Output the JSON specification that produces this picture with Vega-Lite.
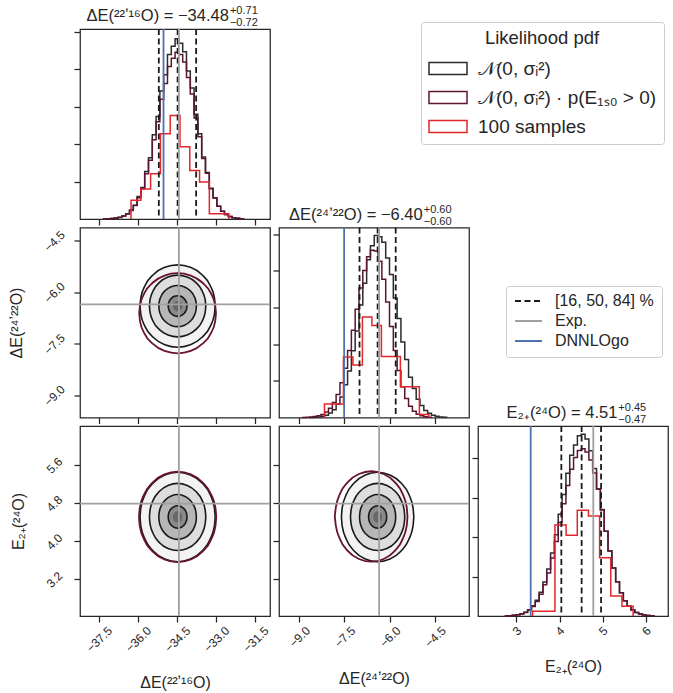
{
"$schema": "https://vega.github.io/schema/vega-lite/v6.json",
"padding": {"left": 7, "top": 4, "right": 0, "bottom": 0},
"columns": 3,
"spacing": {"row": 8.5, "column": 9},
"bounds": "flush",
"datasets": {
"h1": [
{"s":"N","x":-37.343,"u":0},{"s":"N","x":-37.197,"u":0.006},{"s":"N","x":-37.051,"u":0.012},{"s":"N","x":-36.906,"u":0.025},{"s":"N","x":-36.760,"u":0.045},{"s":"N","x":-36.615,"u":0.08},{"s":"N","x":-36.469,"u":0.14},{"s":"N","x":-36.323,"u":0.24},{"s":"N","x":-36.178,"u":0.37},{"s":"N","x":-36.032,"u":0.60},{"s":"N","x":-35.887,"u":0.84},{"s":"N","x":-35.741,"u":1.27},{"s":"N","x":-35.596,"u":1.64},{"s":"N","x":-35.450,"u":2.25},{"s":"N","x":-35.304,"u":2.74},{"s":"N","x":-35.159,"u":3.42},{"s":"N","x":-35.013,"u":3.86},{"s":"N","x":-34.868,"u":4.40},{"s":"N","x":-34.722,"u":4.62},{"s":"N","x":-34.577,"u":4.82},{"s":"N","x":-34.431,"u":4.70},{"s":"N","x":-34.285,"u":4.47},{"s":"N","x":-34.140,"u":3.96},{"s":"N","x":-33.994,"u":3.50},{"s":"N","x":-33.849,"u":2.80},{"s":"N","x":-33.703,"u":2.28},{"s":"N","x":-33.557,"u":1.66},{"s":"N","x":-33.412,"u":1.24},{"s":"N","x":-33.266,"u":0.82},{"s":"N","x":-33.121,"u":0.57},{"s":"N","x":-32.975,"u":0.34},{"s":"N","x":-32.830,"u":0.21},{"s":"N","x":-32.684,"u":0.12},{"s":"N","x":-32.538,"u":0.07},{"s":"N","x":-32.393,"u":0.035},{"s":"N","x":-32.247,"u":0.018},{"s":"N","x":-32.102,"u":0.009},{"s":"N","x":-31.956,"u":0},
{"s":"Np","x":-37.343,"u":0},{"s":"Np","x":-37.197,"u":0.006},{"s":"Np","x":-37.051,"u":0.012},{"s":"Np","x":-36.906,"u":0.024},{"s":"Np","x":-36.760,"u":0.043},{"s":"Np","x":-36.615,"u":0.077},{"s":"Np","x":-36.469,"u":0.135},{"s":"Np","x":-36.323,"u":0.23},{"s":"Np","x":-36.178,"u":0.36},{"s":"Np","x":-36.032,"u":0.57},{"s":"Np","x":-35.887,"u":0.81},{"s":"Np","x":-35.741,"u":1.21},{"s":"Np","x":-35.596,"u":1.57},{"s":"Np","x":-35.450,"u":2.12},{"s":"Np","x":-35.304,"u":2.60},{"s":"Np","x":-35.159,"u":3.20},{"s":"Np","x":-35.013,"u":3.62},{"s":"Np","x":-34.868,"u":4.08},{"s":"Np","x":-34.722,"u":4.30},{"s":"Np","x":-34.577,"u":4.46},{"s":"Np","x":-34.431,"u":4.40},{"s":"Np","x":-34.285,"u":4.20},{"s":"Np","x":-34.140,"u":3.78},{"s":"Np","x":-33.994,"u":3.34},{"s":"Np","x":-33.849,"u":2.70},{"s":"Np","x":-33.703,"u":2.20},{"s":"Np","x":-33.557,"u":1.62},{"s":"Np","x":-33.412,"u":1.22},{"s":"Np","x":-33.266,"u":0.81},{"s":"Np","x":-33.121,"u":0.56},{"s":"Np","x":-32.975,"u":0.34},{"s":"Np","x":-32.830,"u":0.21},{"s":"Np","x":-32.684,"u":0.12},{"s":"Np","x":-32.538,"u":0.07},{"s":"Np","x":-32.393,"u":0.035},{"s":"Np","x":-32.247,"u":0.018},{"s":"Np","x":-32.102,"u":0.009},{"s":"Np","x":-31.956,"u":0},
{"s":"S","x":-36.264,"u":0},{"s":"S","x":-36.264,"u":0.50},{"s":"S","x":-35.889,"u":0.80},{"s":"S","x":-35.514,"u":1.21},{"s":"S","x":-35.139,"u":2.28},{"s":"S","x":-34.764,"u":2.77},{"s":"S","x":-34.389,"u":1.93},{"s":"S","x":-34.014,"u":1.30},{"s":"S","x":-33.639,"u":0.99},{"s":"S","x":-33.264,"u":0.14},{"s":"S","x":-32.889,"u":0.14},{"s":"S","x":-32.514,"u":0}
],
"h2": [
{"s":"N","x":-8.661,"u":0},{"s":"N","x":-8.534,"u":0.007},{"s":"N","x":-8.408,"u":0.015},{"s":"N","x":-8.281,"u":0.032},{"s":"N","x":-8.155,"u":0.063},{"s":"N","x":-8.029,"u":0.12},{"s":"N","x":-7.902,"u":0.21},{"s":"N","x":-7.776,"u":0.36},{"s":"N","x":-7.649,"u":0.56},{"s":"N","x":-7.523,"u":0.89},{"s":"N","x":-7.396,"u":1.27},{"s":"N","x":-7.270,"u":1.82},{"s":"N","x":-7.144,"u":2.36},{"s":"N","x":-7.017,"u":3.07},{"s":"N","x":-6.891,"u":3.66},{"s":"N","x":-6.764,"u":4.30},{"s":"N","x":-6.638,"u":4.68},{"s":"N","x":-6.512,"u":4.96},{"s":"N","x":-6.385,"u":4.93},{"s":"N","x":-6.259,"u":4.78},{"s":"N","x":-6.132,"u":4.35},{"s":"N","x":-6.006,"u":3.90},{"s":"N","x":-5.879,"u":3.26},{"s":"N","x":-5.753,"u":2.70},{"s":"N","x":-5.627,"u":2.06},{"s":"N","x":-5.500,"u":1.58},{"s":"N","x":-5.374,"u":1.10},{"s":"N","x":-5.247,"u":0.79},{"s":"N","x":-5.121,"u":0.50},{"s":"N","x":-4.995,"u":0.33},{"s":"N","x":-4.868,"u":0.19},{"s":"N","x":-4.742,"u":0.115},{"s":"N","x":-4.615,"u":0.063},{"s":"N","x":-4.489,"u":0.033},{"s":"N","x":-4.363,"u":0.016},{"s":"N","x":-4.236,"u":0.008},{"s":"N","x":-4.110,"u":0},
{"s":"Np","x":-8.913,"u":0},{"s":"Np","x":-8.787,"u":0.006},{"s":"Np","x":-8.661,"u":0.012},{"s":"Np","x":-8.534,"u":0.024},{"s":"Np","x":-8.408,"u":0.046},{"s":"Np","x":-8.281,"u":0.085},{"s":"Np","x":-8.155,"u":0.15},{"s":"Np","x":-8.029,"u":0.25},{"s":"Np","x":-7.902,"u":0.41},{"s":"Np","x":-7.776,"u":0.63},{"s":"Np","x":-7.649,"u":0.95},{"s":"Np","x":-7.523,"u":1.34},{"s":"Np","x":-7.396,"u":1.83},{"s":"Np","x":-7.270,"u":2.38},{"s":"Np","x":-7.144,"u":2.95},{"s":"Np","x":-7.017,"u":3.53},{"s":"Np","x":-6.891,"u":4.01},{"s":"Np","x":-6.764,"u":4.38},{"s":"Np","x":-6.638,"u":4.56},{"s":"Np","x":-6.512,"u":4.54},{"s":"Np","x":-6.385,"u":4.26},{"s":"Np","x":-6.259,"u":3.77},{"s":"Np","x":-6.132,"u":3.15},{"s":"Np","x":-6.006,"u":2.48},{"s":"Np","x":-5.879,"u":1.83},{"s":"Np","x":-5.753,"u":1.28},{"s":"Np","x":-5.627,"u":0.84},{"s":"Np","x":-5.500,"u":0.52},{"s":"Np","x":-5.374,"u":0.31},{"s":"Np","x":-5.247,"u":0.17},{"s":"Np","x":-5.121,"u":0.09},{"s":"Np","x":-4.995,"u":0.045},{"s":"Np","x":-4.868,"u":0.02},{"s":"Np","x":-4.742,"u":0.01},{"s":"Np","x":-4.615,"u":0},
{"s":"S","x":-8.162,"u":0},{"s":"S","x":-8.162,"u":0.37},{"s":"S","x":-7.848,"u":0.37},{"s":"S","x":-7.533,"u":1.65},{"s":"S","x":-7.218,"u":1.43},{"s":"S","x":-6.904,"u":2.74},{"s":"S","x":-6.589,"u":2.51},{"s":"S","x":-6.275,"u":1.66},{"s":"S","x":-5.960,"u":1.66},{"s":"S","x":-5.645,"u":0.84},{"s":"S","x":-5.331,"u":0.84},{"s":"S","x":-5.016,"u":0.08},{"s":"S","x":-4.702,"u":0}
],
"h3": [
{"s":"N","x":2.727,"u":0},{"s":"N","x":2.815,"u":0.009},{"s":"N","x":2.904,"u":0.017},{"s":"N","x":2.993,"u":0.032},{"s":"N","x":3.081,"u":0.057},{"s":"N","x":3.170,"u":0.097},{"s":"N","x":3.259,"u":0.16},{"s":"N","x":3.348,"u":0.26},{"s":"N","x":3.436,"u":0.40},{"s":"N","x":3.525,"u":0.60},{"s":"N","x":3.614,"u":0.86},{"s":"N","x":3.702,"u":1.19},{"s":"N","x":3.791,"u":1.60},{"s":"N","x":3.880,"u":2.06},{"s":"N","x":3.968,"u":2.58},{"s":"N","x":4.057,"u":3.08},{"s":"N","x":4.146,"u":3.62},{"s":"N","x":4.234,"u":4.08},{"s":"N","x":4.323,"u":4.34},{"s":"N","x":4.412,"u":4.57},{"s":"N","x":4.500,"u":4.61},{"s":"N","x":4.589,"u":4.49},{"s":"N","x":4.678,"u":4.19},{"s":"N","x":4.766,"u":3.74},{"s":"N","x":4.855,"u":3.22},{"s":"N","x":4.944,"u":2.70},{"s":"N","x":5.032,"u":2.15},{"s":"N","x":5.121,"u":1.65},{"s":"N","x":5.210,"u":1.22},{"s":"N","x":5.298,"u":0.87},{"s":"N","x":5.387,"u":0.59},{"s":"N","x":5.476,"u":0.39},{"s":"N","x":5.564,"u":0.25},{"s":"N","x":5.653,"u":0.15},{"s":"N","x":5.742,"u":0.088},{"s":"N","x":5.830,"u":0.048},{"s":"N","x":5.919,"u":0.025},{"s":"N","x":6.008,"u":0.012},{"s":"N","x":6.097,"u":0.006},{"s":"N","x":6.185,"u":0},
{"s":"Np","x":2.727,"u":0},{"s":"Np","x":2.815,"u":0.008},{"s":"Np","x":2.904,"u":0.016},{"s":"Np","x":2.993,"u":0.03},{"s":"Np","x":3.081,"u":0.053},{"s":"Np","x":3.170,"u":0.09},{"s":"Np","x":3.259,"u":0.15},{"s":"Np","x":3.348,"u":0.24},{"s":"Np","x":3.436,"u":0.37},{"s":"Np","x":3.525,"u":0.55},{"s":"Np","x":3.614,"u":0.79},{"s":"Np","x":3.702,"u":1.09},{"s":"Np","x":3.791,"u":1.47},{"s":"Np","x":3.880,"u":1.89},{"s":"Np","x":3.968,"u":2.37},{"s":"Np","x":4.057,"u":2.85},{"s":"Np","x":4.146,"u":3.31},{"s":"Np","x":4.234,"u":3.72},{"s":"Np","x":4.323,"u":4.02},{"s":"Np","x":4.412,"u":4.20},{"s":"Np","x":4.500,"u":4.24},{"s":"Np","x":4.589,"u":4.16},{"s":"Np","x":4.678,"u":3.96},{"s":"Np","x":4.766,"u":3.63},{"s":"Np","x":4.855,"u":3.22},{"s":"Np","x":4.944,"u":2.69},{"s":"Np","x":5.032,"u":2.15},{"s":"Np","x":5.121,"u":1.65},{"s":"Np","x":5.210,"u":1.22},{"s":"Np","x":5.298,"u":0.87},{"s":"Np","x":5.387,"u":0.59},{"s":"Np","x":5.476,"u":0.39},{"s":"Np","x":5.564,"u":0.25},{"s":"Np","x":5.653,"u":0.15},{"s":"Np","x":5.742,"u":0.088},{"s":"Np","x":5.830,"u":0.048},{"s":"Np","x":5.919,"u":0.025},{"s":"Np","x":6.008,"u":0.012},{"s":"Np","x":6.097,"u":0.006},{"s":"Np","x":6.185,"u":0},
{"s":"S","x":3.375,"u":0},{"s":"S","x":3.375,"u":0.12},{"s":"S","x":3.634,"u":0.12},{"s":"S","x":3.892,"u":2.31},{"s":"S","x":4.151,"u":2.05},{"s":"S","x":4.409,"u":2.68},{"s":"S","x":4.668,"u":2.54},{"s":"S","x":4.926,"u":1.48},{"s":"S","x":5.185,"u":0.51},{"s":"S","x":5.443,"u":0.25},{"s":"S","x":5.702,"u":0}
],
"r": [
{"p":1,"k":"q","x":-35.20},{"p":1,"k":"q","x":-34.48},{"p":1,"k":"q","x":-33.77},{"p":1,"k":"e","x":-34.43},{"p":1,"k":"d","x":-35.02},
{"p":2,"k":"q","x":-7.00},{"p":2,"k":"q","x":-6.40},{"p":2,"k":"q","x":-5.80},{"p":2,"k":"e","x":-6.35},{"p":2,"k":"d","x":-7.51},
{"p":3,"k":"q","x":4.04},{"p":3,"k":"q","x":4.51},{"p":3,"k":"q","x":4.96},{"p":3,"k":"e","x":4.78},{"p":3,"k":"d","x":3.33}
],
"tt": [
{"p":1,"x":-32.514,"u":5.08,"m":"ΔE(²²ʼ¹⁶O) = −34.48","a":"+0.71","b":"−0.72"},
{"p":2,"x":-4.904,"u":5.18,"m":"ΔE(²⁴ʼ²²O) = −6.40","a":"+0.60","b":"−0.60"},
{"p":3,"x":5.337,"u":4.82,"m":"E₂₊(²⁴O) = 4.51","a":"+0.45","b":"−0.47"}
],
"g": [
{"p":"A","x":-34.43},{"p":"A","y":-6.35},
{"p":"B","x":-34.43},{"p":"B","y":4.79},
{"p":"C","x":-6.35},{"p":"C","y":4.79}
],
"eA": [
{"l":"2","x":-33.04,"t":-6.40,"b":-6.40},{"l":"2","x":-33.072,"t":-6.151,"b":-6.649},{"l":"2","x":-33.233,"t":-5.80,"b":-7.00},{"l":"2","x":-33.554,"t":-5.481,"b":-7.319},{"l":"2","x":-33.988,"t":-5.272,"b":-7.528},{"l":"2","x":-34.48,"t":-5.20,"b":-7.60},{"l":"2","x":-34.972,"t":-5.272,"b":-7.528},{"l":"2","x":-35.406,"t":-5.481,"b":-7.319},{"l":"2","x":-35.727,"t":-5.80,"b":-7.00},{"l":"2","x":-35.888,"t":-6.151,"b":-6.649},{"l":"2","x":-35.92,"t":-6.40,"b":-6.40},
{"l":"1.5","x":-33.40,"t":-6.40,"b":-6.40},{"l":"1.5","x":-33.424,"t":-6.213,"b":-6.587},{"l":"1.5","x":-33.545,"t":-5.95,"b":-6.85},{"l":"1.5","x":-33.786,"t":-5.711,"b":-7.089},{"l":"1.5","x":-34.111,"t":-5.554,"b":-7.246},{"l":"1.5","x":-34.48,"t":-5.50,"b":-7.30},{"l":"1.5","x":-34.849,"t":-5.554,"b":-7.246},{"l":"1.5","x":-35.174,"t":-5.711,"b":-7.089},{"l":"1.5","x":-35.415,"t":-5.95,"b":-6.85},{"l":"1.5","x":-35.536,"t":-6.213,"b":-6.587},{"l":"1.5","x":-35.56,"t":-6.40,"b":-6.40},
{"l":"1","x":-33.76,"t":-6.40,"b":-6.40},{"l":"1","x":-33.776,"t":-6.275,"b":-6.525},{"l":"1","x":-33.856,"t":-6.10,"b":-6.70},{"l":"1","x":-34.017,"t":-5.94,"b":-6.86},{"l":"1","x":-34.234,"t":-5.836,"b":-6.964},{"l":"1","x":-34.48,"t":-5.80,"b":-7.00},{"l":"1","x":-34.726,"t":-5.836,"b":-6.964},{"l":"1","x":-34.943,"t":-5.94,"b":-6.86},{"l":"1","x":-35.104,"t":-6.10,"b":-6.70},{"l":"1","x":-35.184,"t":-6.275,"b":-6.525},{"l":"1","x":-35.20,"t":-6.40,"b":-6.40},
{"l":"0.5","x":-34.12,"t":-6.40,"b":-6.40},{"l":"0.5","x":-34.128,"t":-6.338,"b":-6.462},{"l":"0.5","x":-34.168,"t":-6.25,"b":-6.55},{"l":"0.5","x":-34.249,"t":-6.17,"b":-6.63},{"l":"0.5","x":-34.357,"t":-6.118,"b":-6.682},{"l":"0.5","x":-34.48,"t":-6.10,"b":-6.70},{"l":"0.5","x":-34.603,"t":-6.118,"b":-6.682},{"l":"0.5","x":-34.711,"t":-6.17,"b":-6.63},{"l":"0.5","x":-34.792,"t":-6.25,"b":-6.55},{"l":"0.5","x":-34.832,"t":-6.338,"b":-6.462},{"l":"0.5","x":-34.84,"t":-6.40,"b":-6.40},
{"l":"0.25","x":-34.30,"t":-6.40,"b":-6.40},{"l":"0.25","x":-34.304,"t":-6.369,"b":-6.431},{"l":"0.25","x":-34.324,"t":-6.325,"b":-6.475},{"l":"0.25","x":-34.364,"t":-6.285,"b":-6.515},{"l":"0.25","x":-34.418,"t":-6.259,"b":-6.541},{"l":"0.25","x":-34.48,"t":-6.25,"b":-6.55},{"l":"0.25","x":-34.542,"t":-6.259,"b":-6.541},{"l":"0.25","x":-34.596,"t":-6.285,"b":-6.515},{"l":"0.25","x":-34.636,"t":-6.325,"b":-6.475},{"l":"0.25","x":-34.656,"t":-6.369,"b":-6.431},{"l":"0.25","x":-34.66,"t":-6.40,"b":-6.40},
{"l":"p","x":-33.01,"t":-6.61,"b":-6.61},{"l":"p","x":-33.042,"t":-6.367,"b":-6.853},{"l":"p","x":-33.207,"t":-6.025,"b":-7.195},{"l":"p","x":-33.535,"t":-5.714,"b":-7.506},{"l":"p","x":-33.977,"t":-5.511,"b":-7.709},{"l":"p","x":-34.48,"t":-5.44,"b":-7.78},{"l":"p","x":-34.983,"t":-5.511,"b":-7.709},{"l":"p","x":-35.425,"t":-5.714,"b":-7.506},{"l":"p","x":-35.753,"t":-6.025,"b":-7.195},{"l":"p","x":-35.918,"t":-6.367,"b":-6.853},{"l":"p","x":-35.95,"t":-6.61,"b":-6.61}
],
"eB": [
{"l":"2","x":-33.04,"t":4.51,"b":4.51},{"l":"2","x":-33.072,"t":4.705,"b":4.315},{"l":"2","x":-33.233,"t":4.98,"b":4.04},{"l":"2","x":-33.554,"t":5.23,"b":3.79},{"l":"2","x":-33.988,"t":5.393,"b":3.627},{"l":"2","x":-34.48,"t":5.45,"b":3.57},{"l":"2","x":-34.972,"t":5.393,"b":3.627},{"l":"2","x":-35.406,"t":5.23,"b":3.79},{"l":"2","x":-35.727,"t":4.98,"b":4.04},{"l":"2","x":-35.888,"t":4.705,"b":4.315},{"l":"2","x":-35.92,"t":4.51,"b":4.51},
{"l":"1.5","x":-33.40,"t":4.51,"b":4.51},{"l":"1.5","x":-33.424,"t":4.657,"b":4.363},{"l":"1.5","x":-33.545,"t":4.863,"b":4.157},{"l":"1.5","x":-33.786,"t":5.05,"b":3.97},{"l":"1.5","x":-34.111,"t":5.172,"b":3.848},{"l":"1.5","x":-34.48,"t":5.215,"b":3.805},{"l":"1.5","x":-34.849,"t":5.172,"b":3.848},{"l":"1.5","x":-35.174,"t":5.05,"b":3.97},{"l":"1.5","x":-35.415,"t":4.863,"b":4.157},{"l":"1.5","x":-35.536,"t":4.657,"b":4.363},{"l":"1.5","x":-35.56,"t":4.51,"b":4.51},
{"l":"1","x":-33.76,"t":4.51,"b":4.51},{"l":"1","x":-33.776,"t":4.608,"b":4.412},{"l":"1","x":-33.856,"t":4.745,"b":4.275},{"l":"1","x":-34.017,"t":4.87,"b":4.15},{"l":"1","x":-34.234,"t":4.952,"b":4.068},{"l":"1","x":-34.48,"t":4.98,"b":4.04},{"l":"1","x":-34.726,"t":4.952,"b":4.068},{"l":"1","x":-34.943,"t":4.87,"b":4.15},{"l":"1","x":-35.104,"t":4.745,"b":4.275},{"l":"1","x":-35.184,"t":4.608,"b":4.412},{"l":"1","x":-35.20,"t":4.51,"b":4.51},
{"l":"0.5","x":-34.12,"t":4.51,"b":4.51},{"l":"0.5","x":-34.128,"t":4.559,"b":4.461},{"l":"0.5","x":-34.168,"t":4.628,"b":4.392},{"l":"0.5","x":-34.249,"t":4.69,"b":4.33},{"l":"0.5","x":-34.357,"t":4.731,"b":4.289},{"l":"0.5","x":-34.48,"t":4.745,"b":4.275},{"l":"0.5","x":-34.603,"t":4.731,"b":4.289},{"l":"0.5","x":-34.711,"t":4.69,"b":4.33},{"l":"0.5","x":-34.792,"t":4.628,"b":4.392},{"l":"0.5","x":-34.832,"t":4.559,"b":4.461},{"l":"0.5","x":-34.84,"t":4.51,"b":4.51},
{"l":"0.25","x":-34.30,"t":4.51,"b":4.51},{"l":"0.25","x":-34.304,"t":4.534,"b":4.486},{"l":"0.25","x":-34.324,"t":4.569,"b":4.451},{"l":"0.25","x":-34.364,"t":4.60,"b":4.42},{"l":"0.25","x":-34.418,"t":4.62,"b":4.40},{"l":"0.25","x":-34.48,"t":4.628,"b":4.392},{"l":"0.25","x":-34.542,"t":4.62,"b":4.40},{"l":"0.25","x":-34.596,"t":4.60,"b":4.42},{"l":"0.25","x":-34.636,"t":4.569,"b":4.451},{"l":"0.25","x":-34.656,"t":4.534,"b":4.486},{"l":"0.25","x":-34.66,"t":4.51,"b":4.51},
{"l":"p","x":-33.00,"t":4.51,"b":4.51},{"l":"p","x":-33.032,"t":4.708,"b":4.312},{"l":"p","x":-33.198,"t":4.985,"b":4.035},{"l":"p","x":-33.529,"t":5.238,"b":3.782},{"l":"p","x":-33.974,"t":5.403,"b":3.617},{"l":"p","x":-34.48,"t":5.46,"b":3.56},{"l":"p","x":-34.986,"t":5.403,"b":3.617},{"l":"p","x":-35.431,"t":5.238,"b":3.782},{"l":"p","x":-35.762,"t":4.985,"b":4.035},{"l":"p","x":-35.928,"t":4.708,"b":4.312},{"l":"p","x":-35.96,"t":4.51,"b":4.51}
],
"eC": [
{"l":"2","x":-5.20,"t":4.51,"b":4.51},{"l":"2","x":-5.226,"t":4.705,"b":4.315},{"l":"2","x":-5.361,"t":4.98,"b":4.04},{"l":"2","x":-5.629,"t":5.23,"b":3.79},{"l":"2","x":-5.99,"t":5.393,"b":3.627},{"l":"2","x":-6.40,"t":5.45,"b":3.57},{"l":"2","x":-6.81,"t":5.393,"b":3.627},{"l":"2","x":-7.171,"t":5.23,"b":3.79},{"l":"2","x":-7.439,"t":4.98,"b":4.04},{"l":"2","x":-7.574,"t":4.705,"b":4.315},{"l":"2","x":-7.60,"t":4.51,"b":4.51},
{"l":"1.5","x":-5.50,"t":4.51,"b":4.51},{"l":"1.5","x":-5.520,"t":4.657,"b":4.363},{"l":"1.5","x":-5.621,"t":4.863,"b":4.157},{"l":"1.5","x":-5.821,"t":5.05,"b":3.97},{"l":"1.5","x":-6.092,"t":5.172,"b":3.848},{"l":"1.5","x":-6.40,"t":5.215,"b":3.805},{"l":"1.5","x":-6.708,"t":5.172,"b":3.848},{"l":"1.5","x":-6.979,"t":5.05,"b":3.97},{"l":"1.5","x":-7.179,"t":4.863,"b":4.157},{"l":"1.5","x":-7.280,"t":4.657,"b":4.363},{"l":"1.5","x":-7.30,"t":4.51,"b":4.51},
{"l":"1","x":-5.80,"t":4.51,"b":4.51},{"l":"1","x":-5.813,"t":4.608,"b":4.412},{"l":"1","x":-5.88,"t":4.745,"b":4.275},{"l":"1","x":-6.014,"t":4.87,"b":4.15},{"l":"1","x":-6.195,"t":4.952,"b":4.068},{"l":"1","x":-6.40,"t":4.98,"b":4.04},{"l":"1","x":-6.605,"t":4.952,"b":4.068},{"l":"1","x":-6.786,"t":4.87,"b":4.15},{"l":"1","x":-6.92,"t":4.745,"b":4.275},{"l":"1","x":-6.987,"t":4.608,"b":4.412},{"l":"1","x":-7.00,"t":4.51,"b":4.51},
{"l":"0.5","x":-6.10,"t":4.51,"b":4.51},{"l":"0.5","x":-6.107,"t":4.559,"b":4.461},{"l":"0.5","x":-6.14,"t":4.628,"b":4.392},{"l":"0.5","x":-6.207,"t":4.69,"b":4.33},{"l":"0.5","x":-6.297,"t":4.731,"b":4.289},{"l":"0.5","x":-6.40,"t":4.745,"b":4.275},{"l":"0.5","x":-6.503,"t":4.731,"b":4.289},{"l":"0.5","x":-6.593,"t":4.69,"b":4.33},{"l":"0.5","x":-6.66,"t":4.628,"b":4.392},{"l":"0.5","x":-6.693,"t":4.559,"b":4.461},{"l":"0.5","x":-6.70,"t":4.51,"b":4.51},
{"l":"0.25","x":-6.25,"t":4.51,"b":4.51},{"l":"0.25","x":-6.253,"t":4.534,"b":4.486},{"l":"0.25","x":-6.27,"t":4.569,"b":4.451},{"l":"0.25","x":-6.304,"t":4.60,"b":4.42},{"l":"0.25","x":-6.349,"t":4.62,"b":4.40},{"l":"0.25","x":-6.40,"t":4.628,"b":4.392},{"l":"0.25","x":-6.451,"t":4.62,"b":4.40},{"l":"0.25","x":-6.496,"t":4.60,"b":4.42},{"l":"0.25","x":-6.53,"t":4.569,"b":4.451},{"l":"0.25","x":-6.547,"t":4.534,"b":4.486},{"l":"0.25","x":-6.55,"t":4.51,"b":4.51},
{"l":"p","x":-5.41,"t":4.52,"b":4.52},{"l":"p","x":-5.436,"t":4.718,"b":4.322},{"l":"p","x":-5.571,"t":4.995,"b":4.045},{"l":"p","x":-5.839,"t":5.248,"b":3.792},{"l":"p","x":-6.20,"t":5.413,"b":3.627},{"l":"p","x":-6.61,"t":5.47,"b":3.57},{"l":"p","x":-7.02,"t":5.413,"b":3.627},{"l":"p","x":-7.381,"t":5.248,"b":3.792},{"l":"p","x":-7.649,"t":4.995,"b":4.045},{"l":"p","x":-7.784,"t":4.718,"b":4.322},{"l":"p","x":-7.82,"t":4.52,"b":4.52}
]
},
"concat": [
{
"width": 190, "height": 190,
"layer": [
{"data": {"name": "h1"},
 "mark": {"type": "line", "interpolate": "step-after", "strokeWidth": 1.5},
 "encoding": {
  "x": {"field": "x", "type": "quantitative", "scale": {"domain": [-38.22, -30.94], "nice": false, "zero": false}, "axis": {"values": [-37.5,-36,-34.5,-33,-31.5], "labels": false, "title": null}},
  "y": {"field": "u", "type": "quantitative", "scale": {"domain": [0, 5.08], "nice": false}, "axis": {"values": [1,2,3,4,5], "labels": false, "title": null}},
  "stroke": {"field": "s", "type": "nominal", "scale": {"domain": ["N","Np","S"], "range": ["#2b2b2b","#5c1434","#e3262b"]},
   "legend": {"title": "Likelihood pdf", "orient": "none", "legendX": 341, "legendY": -7, "symbolType": "M-1,-0.32H1V0.32H-1Z", "symbolSize": 1444, "symbolStrokeWidth": 1.5, "symbolFillColor": "transparent", "clipHeight": 18, "labelFontSize": 19, "labelLimit": 400, "titleFontSize": 18.5, "titleFontWeight": "normal", "titleAnchor": "middle", "titlePadding": 12, "labelOffset": 10, "rowPadding": 10, "padding": 7, "strokeColor": "#cccccc", "cornerRadius": 3, "fillColor": "white",
    "labelExpr": "datum.label == 'N' ? '𝒩(0, σᵢ²)' : datum.label == 'Np' ? '𝒩(0, σᵢ²) · p(E₁ₛ₀ > 0)' : '100 samples'"}}
 }},
{"data": {"name": "r"}, "transform": [{"filter": "datum.p == 1"}],
 "mark": {"type": "rule", "strokeWidth": 1.8},
 "encoding": {
  "x": {"field": "x", "type": "quantitative"},
  "color": {"field": "k", "type": "nominal", "scale": {"domain": ["q","e","d"], "range": ["#1a1a1a","#a0a0a0","#4c72b0"]},
   "legend": {"title": null, "orient": "none", "legendX": 426, "legendY": 257, "symbolType": "stroke", "symbolSize": 729, "symbolStrokeWidth": 2, "clipHeight": 14, "labelFontSize": 16, "labelLimit": 300, "labelOffset": 12, "rowPadding": 4, "padding": 8, "strokeColor": "#cccccc", "cornerRadius": 3, "fillColor": "white",
    "labelExpr": "datum.label == 'q' ? '[16, 50, 84] %' : datum.label == 'e' ? 'Exp.' : 'DNNLOgo'"}},
  "strokeDash": {"field": "k", "type": "nominal", "scale": {"domain": ["q","e","d"], "range": [[6,3.5],[1,0],[1,0]]},
   "legend": {"title": null, "orient": "none", "legendX": 426, "legendY": 257, "symbolType": "stroke", "symbolSize": 729, "symbolStrokeWidth": 2, "clipHeight": 14, "labelFontSize": 16, "labelLimit": 300, "labelOffset": 12, "rowPadding": 4, "padding": 8, "strokeColor": "#cccccc", "cornerRadius": 3, "fillColor": "white",
    "labelExpr": "datum.label == 'q' ? '[16, 50, 84] %' : datum.label == 'e' ? 'Exp.' : 'DNNLOgo'"}}
 }},
{"data": {"name": "tt"}, "transform": [{"filter": "datum.p == 1"}],
 "mark": {"type": "text", "align": "right", "baseline": "alphabetic", "dy": -8, "fontSize": 16.5, "color": "#262626"},
 "encoding": {"x": {"field": "x", "type": "quantitative"}, "y": {"field": "u", "type": "quantitative"}, "text": {"field": "m"}}},
{"data": {"name": "tt"}, "transform": [{"filter": "datum.p == 1"}],
 "mark": {"type": "text", "align": "left", "baseline": "alphabetic", "dx": 1, "dy": -15, "fontSize": 11, "color": "#262626"},
 "encoding": {"x": {"field": "x", "type": "quantitative"}, "y": {"field": "u", "type": "quantitative"}, "text": {"field": "a"}}},
{"data": {"name": "tt"}, "transform": [{"filter": "datum.p == 1"}],
 "mark": {"type": "text", "align": "left", "baseline": "alphabetic", "dx": 1, "dy": -3, "fontSize": 11, "color": "#262626"},
 "encoding": {"x": {"field": "x", "type": "quantitative"}, "y": {"field": "u", "type": "quantitative"}, "text": {"field": "b"}}}
]
},
{"width": 190, "height": 190, "view": {"stroke": null}, "data": {"values": [{}]}, "mark": {"type": "point", "opacity": 0}},
{"width": 190, "height": 190, "view": {"stroke": null}, "data": {"values": [{}]}, "mark": {"type": "point", "opacity": 0}},
{
"width": 190, "height": 190,
"layer": [
{"data": {"name": "eA"}, "transform": [{"filter": "datum.l != 'p'"}],
 "mark": {"type": "area", "interpolate": "monotone", "strokeWidth": 0},
 "encoding": {
  "x": {"field": "x", "type": "quantitative", "scale": {"domain": [-38.22, -30.94], "nice": false, "zero": false}, "axis": {"values": [-37.5,-36,-34.5,-33,-31.5], "labels": false, "title": null}},
  "y": {"field": "t", "type": "quantitative", "scale": {"domain": [-9.65, -4.11], "nice": false, "zero": false}, "axis": {"values": [-9,-7.5,-6,-4.5], "format": ".1f", "labelAngle": -45, "labelAlign": "center", "labelBaseline": "middle", "labelPadding": 20, "title": "ΔE(²⁴ʼ²²O)", "titlePadding": 17}},
  "y2": {"field": "b"},
  "fill": {"field": "l", "type": "nominal", "scale": {"domain": ["2","1.5","1","0.5","0.25"], "range": ["#f3f3f3","#dddddd","#b6b6b6","#8a8a8a","#676767"]}, "legend": null}
 }},
{"data": {"name": "eA"}, "transform": [{"filter": "datum.l != 'p' && datum.l != '0.25'"}],
 "mark": {"type": "area", "interpolate": "monotone", "fillOpacity": 0, "stroke": "#1a1a1a", "strokeWidth": 1.6},
 "encoding": {"x": {"field": "x", "type": "quantitative"}, "y": {"field": "t", "type": "quantitative"}, "y2": {"field": "b"}, "detail": {"field": "l"}}},
{"data": {"name": "eA"}, "transform": [{"filter": "datum.l == 'p'"}],
 "mark": {"type": "area", "interpolate": "monotone", "fillOpacity": 0, "stroke": "#6a1232", "strokeWidth": 1.8},
 "encoding": {"x": {"field": "x", "type": "quantitative"}, "y": {"field": "t", "type": "quantitative"}, "y2": {"field": "b"}}},
{"data": {"name": "g"}, "transform": [{"filter": "datum.p == 'A' && isValid(datum.x)"}],
 "mark": {"type": "rule", "color": "#a0a0a0", "strokeWidth": 1.8},
 "encoding": {"x": {"field": "x", "type": "quantitative"}}},
{"data": {"name": "g"}, "transform": [{"filter": "datum.p == 'A' && isValid(datum.y)"}],
 "mark": {"type": "rule", "color": "#a0a0a0", "strokeWidth": 1.8},
 "encoding": {"y": {"field": "y", "type": "quantitative"}}}
]
},
{
"width": 190, "height": 190,
"layer": [
{"data": {"name": "h2"},
 "mark": {"type": "line", "interpolate": "step-after", "strokeWidth": 1.5},
 "encoding": {
  "x": {"field": "x", "type": "quantitative", "scale": {"domain": [-9.67, -3.37], "nice": false, "zero": false}, "axis": {"values": [-9,-7.5,-6,-4.5], "labels": false, "title": null}},
  "y": {"field": "u", "type": "quantitative", "scale": {"domain": [0, 5.18], "nice": false}, "axis": {"values": [1,2,3,4,5], "labels": false, "title": null}},
  "stroke": {"field": "s", "type": "nominal"}
 }},
{"data": {"name": "r"}, "transform": [{"filter": "datum.p == 2"}],
 "mark": {"type": "rule", "strokeWidth": 1.8},
 "encoding": {"x": {"field": "x", "type": "quantitative"}, "color": {"field": "k", "type": "nominal"}, "strokeDash": {"field": "k", "type": "nominal"}}},
{"data": {"name": "tt"}, "transform": [{"filter": "datum.p == 2"}],
 "mark": {"type": "text", "align": "right", "baseline": "alphabetic", "dy": -8, "fontSize": 16.5, "color": "#262626"},
 "encoding": {"x": {"field": "x", "type": "quantitative"}, "y": {"field": "u", "type": "quantitative"}, "text": {"field": "m"}}},
{"data": {"name": "tt"}, "transform": [{"filter": "datum.p == 2"}],
 "mark": {"type": "text", "align": "left", "baseline": "alphabetic", "dx": 1, "dy": -15, "fontSize": 11, "color": "#262626"},
 "encoding": {"x": {"field": "x", "type": "quantitative"}, "y": {"field": "u", "type": "quantitative"}, "text": {"field": "a"}}},
{"data": {"name": "tt"}, "transform": [{"filter": "datum.p == 2"}],
 "mark": {"type": "text", "align": "left", "baseline": "alphabetic", "dx": 1, "dy": -3, "fontSize": 11, "color": "#262626"},
 "encoding": {"x": {"field": "x", "type": "quantitative"}, "y": {"field": "u", "type": "quantitative"}, "text": {"field": "b"}}}
]
},
{"width": 190, "height": 190, "view": {"stroke": null}, "data": {"values": [{}]}, "mark": {"type": "point", "opacity": 0}},
{
"width": 190, "height": 190,
"layer": [
{"data": {"name": "eB"}, "transform": [{"filter": "datum.l != 'p'"}],
 "mark": {"type": "area", "interpolate": "monotone", "strokeWidth": 0},
 "encoding": {
  "x": {"field": "x", "type": "quantitative", "scale": {"domain": [-38.22, -30.94], "nice": false, "zero": false}, "axis": {"values": [-37.5,-36,-34.5,-33,-31.5], "format": ".1f", "labelAngle": -45, "labelAlign": "center", "labelBaseline": "middle", "labelPadding": 17, "title": "ΔE(²²ʼ¹⁶O)", "titlePadding": 21}},
  "y": {"field": "t", "type": "quantitative", "scale": {"domain": [2.43, 6.42], "nice": false, "zero": false}, "axis": {"values": [3.2,4,4.8,5.6], "format": ".1f", "labelAngle": -45, "labelAlign": "center", "labelBaseline": "middle", "labelPadding": 20, "title": "E₂₊(²⁴O)", "titlePadding": 17}},
  "y2": {"field": "b"},
  "fill": {"field": "l", "type": "nominal", "legend": null}
 }},
{"data": {"name": "eB"}, "transform": [{"filter": "datum.l != 'p' && datum.l != '0.25'"}],
 "mark": {"type": "area", "interpolate": "monotone", "fillOpacity": 0, "stroke": "#1a1a1a", "strokeWidth": 1.6},
 "encoding": {"x": {"field": "x", "type": "quantitative"}, "y": {"field": "t", "type": "quantitative"}, "y2": {"field": "b"}, "detail": {"field": "l"}}},
{"data": {"name": "eB"}, "transform": [{"filter": "datum.l == 'p'"}],
 "mark": {"type": "area", "interpolate": "monotone", "fillOpacity": 0, "stroke": "#6a1232", "strokeWidth": 1.8},
 "encoding": {"x": {"field": "x", "type": "quantitative"}, "y": {"field": "t", "type": "quantitative"}, "y2": {"field": "b"}}},
{"data": {"name": "g"}, "transform": [{"filter": "datum.p == 'B' && isValid(datum.x)"}],
 "mark": {"type": "rule", "color": "#a0a0a0", "strokeWidth": 1.8},
 "encoding": {"x": {"field": "x", "type": "quantitative"}}},
{"data": {"name": "g"}, "transform": [{"filter": "datum.p == 'B' && isValid(datum.y)"}],
 "mark": {"type": "rule", "color": "#a0a0a0", "strokeWidth": 1.8},
 "encoding": {"y": {"field": "y", "type": "quantitative"}}}
]
},
{
"width": 190, "height": 190,
"layer": [
{"data": {"name": "eC"}, "transform": [{"filter": "datum.l != 'p'"}],
 "mark": {"type": "area", "interpolate": "monotone", "strokeWidth": 0},
 "encoding": {
  "x": {"field": "x", "type": "quantitative", "scale": {"domain": [-9.67, -3.37], "nice": false, "zero": false}, "axis": {"values": [-9,-7.5,-6,-4.5], "format": ".1f", "labelAngle": -45, "labelAlign": "center", "labelBaseline": "middle", "labelPadding": 14.5, "title": "ΔE(²⁴ʼ²²O)", "titlePadding": 21}},
  "y": {"field": "t", "type": "quantitative", "scale": {"domain": [2.43, 6.42], "nice": false, "zero": false}, "axis": {"values": [3.2,4,4.8,5.6], "labels": false, "title": null}},
  "y2": {"field": "b"},
  "fill": {"field": "l", "type": "nominal", "legend": null}
 }},
{"data": {"name": "eC"}, "transform": [{"filter": "datum.l != 'p' && datum.l != '0.25'"}],
 "mark": {"type": "area", "interpolate": "monotone", "fillOpacity": 0, "stroke": "#1a1a1a", "strokeWidth": 1.6},
 "encoding": {"x": {"field": "x", "type": "quantitative"}, "y": {"field": "t", "type": "quantitative"}, "y2": {"field": "b"}, "detail": {"field": "l"}}},
{"data": {"name": "eC"}, "transform": [{"filter": "datum.l == 'p'"}],
 "mark": {"type": "area", "interpolate": "monotone", "fillOpacity": 0, "stroke": "#6a1232", "strokeWidth": 1.8},
 "encoding": {"x": {"field": "x", "type": "quantitative"}, "y": {"field": "t", "type": "quantitative"}, "y2": {"field": "b"}}},
{"data": {"name": "g"}, "transform": [{"filter": "datum.p == 'C' && isValid(datum.x)"}],
 "mark": {"type": "rule", "color": "#a0a0a0", "strokeWidth": 1.8},
 "encoding": {"x": {"field": "x", "type": "quantitative"}}},
{"data": {"name": "g"}, "transform": [{"filter": "datum.p == 'C' && isValid(datum.y)"}],
 "mark": {"type": "rule", "color": "#a0a0a0", "strokeWidth": 1.8},
 "encoding": {"y": {"field": "y", "type": "quantitative"}}}
]
},
{
"width": 190, "height": 190,
"layer": [
{"data": {"name": "h3"},
 "mark": {"type": "line", "interpolate": "step-after", "strokeWidth": 1.5},
 "encoding": {
  "x": {"field": "x", "type": "quantitative", "scale": {"domain": [2.11, 6.51], "nice": false, "zero": false}, "axis": {"values": [3,4,5,6], "format": "d", "labelAngle": -45, "labelAlign": "center", "labelBaseline": "middle", "labelPadding": 8.5, "title": "E₂₊(²⁴O)", "titlePadding": 21}},
  "y": {"field": "u", "type": "quantitative", "scale": {"domain": [0, 4.82], "nice": false}, "axis": {"values": [1,2,3,4], "labels": false, "title": null}},
  "stroke": {"field": "s", "type": "nominal"}
 }},
{"data": {"name": "r"}, "transform": [{"filter": "datum.p == 3"}],
 "mark": {"type": "rule", "strokeWidth": 1.8},
 "encoding": {"x": {"field": "x", "type": "quantitative"}, "color": {"field": "k", "type": "nominal"}, "strokeDash": {"field": "k", "type": "nominal"}}},
{"data": {"name": "tt"}, "transform": [{"filter": "datum.p == 3"}],
 "mark": {"type": "text", "align": "right", "baseline": "alphabetic", "dy": -8, "fontSize": 16.5, "color": "#262626"},
 "encoding": {"x": {"field": "x", "type": "quantitative"}, "y": {"field": "u", "type": "quantitative"}, "text": {"field": "m"}}},
{"data": {"name": "tt"}, "transform": [{"filter": "datum.p == 3"}],
 "mark": {"type": "text", "align": "left", "baseline": "alphabetic", "dx": 1, "dy": -15, "fontSize": 11, "color": "#262626"},
 "encoding": {"x": {"field": "x", "type": "quantitative"}, "y": {"field": "u", "type": "quantitative"}, "text": {"field": "a"}}},
{"data": {"name": "tt"}, "transform": [{"filter": "datum.p == 3"}],
 "mark": {"type": "text", "align": "left", "baseline": "alphabetic", "dx": 1, "dy": -3, "fontSize": 11, "color": "#262626"},
 "encoding": {"x": {"field": "x", "type": "quantitative"}, "y": {"field": "u", "type": "quantitative"}, "text": {"field": "b"}}}
]
}
],
"config": {
 "font": "Liberation Sans",
 "view": {"stroke": "#262626", "strokeWidth": 1.25},
 "axis": {"domain": false, "grid": false, "ticks": true, "tickSize": 6, "tickColor": "#262626", "tickWidth": 1.25, "labelFont": "Liberation Sans", "labelFontSize": 12, "labelColor": "#262626", "titleFont": "Liberation Sans", "titleFontSize": 16, "titleFontWeight": "normal", "titleColor": "#262626"},
 "legend": {"labelFont": "Liberation Sans", "titleFont": "Liberation Sans", "labelColor": "#262626", "titleColor": "#262626"}
}
}
